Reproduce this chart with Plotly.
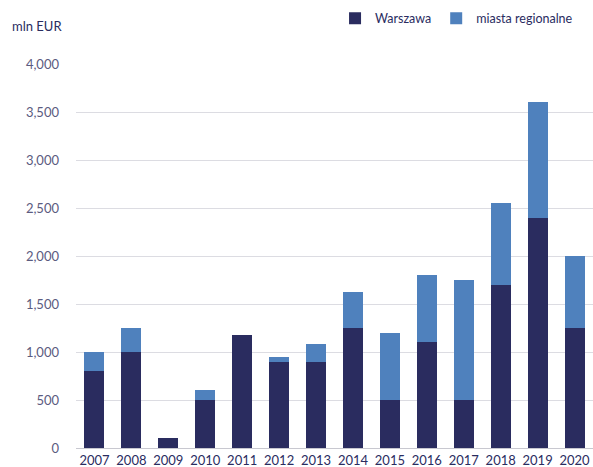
import plotly.graph_objects as go

years = ["2007", "2008", "2009", "2010", "2011", "2012", "2013",
         "2014", "2015", "2016", "2017", "2018", "2019", "2020"]
warszawa = [800, 1000, 100, 500, 1175, 900, 900, 1250, 500, 1100, 500, 1700, 2400, 1250]
regionalne = [200, 250, 0, 100, 0, 50, 180, 370, 700, 700, 1250, 850, 1200, 750]
y_ticks = [0, 500, 1000, 1500, 2000, 2500, 3000, 3500, 4000]
y_tick_text = ["0", "500", "1,000", "1,500", "2,000", "2,500", "3,000", "3,500", "4,000"]

NAVY = "#2a2c5f"
BLUE = "#4f81bd"
FONT = "Lato"

W, H = 593, 467
M_L, M_R, M_T, M_B = 76, 0, 64, 19
PLOT_W = W - M_L - M_R
PLOT_H = H - M_T - M_B

fig = go.Figure()
fig.add_trace(go.Bar(x=years, y=warszawa, name="Warszawa", marker_color=NAVY,
                     marker_line_width=0, width=0.54))
fig.add_trace(go.Bar(x=years, y=regionalne, name="miasta regionalne", marker_color=BLUE,
                     marker_line_width=0, width=0.54))

fig.update_layout(
    barmode="stack",
    width=W, height=H,
    margin=dict(l=M_L, r=M_R, t=M_T, b=M_B),
    paper_bgcolor="white", plot_bgcolor="white",
    font=dict(family=FONT, size=13, color="#5b5b80"),
    legend=dict(orientation="h", xref="container", yref="container",
                x=0.565, y=0.96, xanchor="left", yanchor="middle",
                font=dict(size=12.5, color=NAVY), traceorder="normal",
                bgcolor="rgba(0,0,0,0)"),
    xaxis=dict(type="category", automargin=False, showgrid=False,
               showline=True, linecolor="#c8c8d0", linewidth=1, ticks="",
               ticklabelstandoff=0,
               tickfont=dict(size=13, color=NAVY), range=[-0.5, 13.5]),
    yaxis=dict(range=[0, 4000], tickvals=y_ticks, ticktext=y_tick_text, automargin=False,
               showgrid=True, gridcolor="#dcdce2", gridwidth=1, zeroline=False,
               showline=False, ticks="", ticklabelstandoff=16,
               tickfont=dict(size=13, color="#5b5b80")),
)
# unit label above the value axis (paper coordinates derived from pixel spots)
fig.add_annotation(text="mln EUR", xref="paper", yref="paper",
                   x=(10 - M_L) / PLOT_W, y=(H - M_B - 26) / PLOT_H,
                   xanchor="left", yanchor="middle",
                   showarrow=False, font=dict(size=13, color=NAVY, family=FONT))

fig.write_html("out.html")
